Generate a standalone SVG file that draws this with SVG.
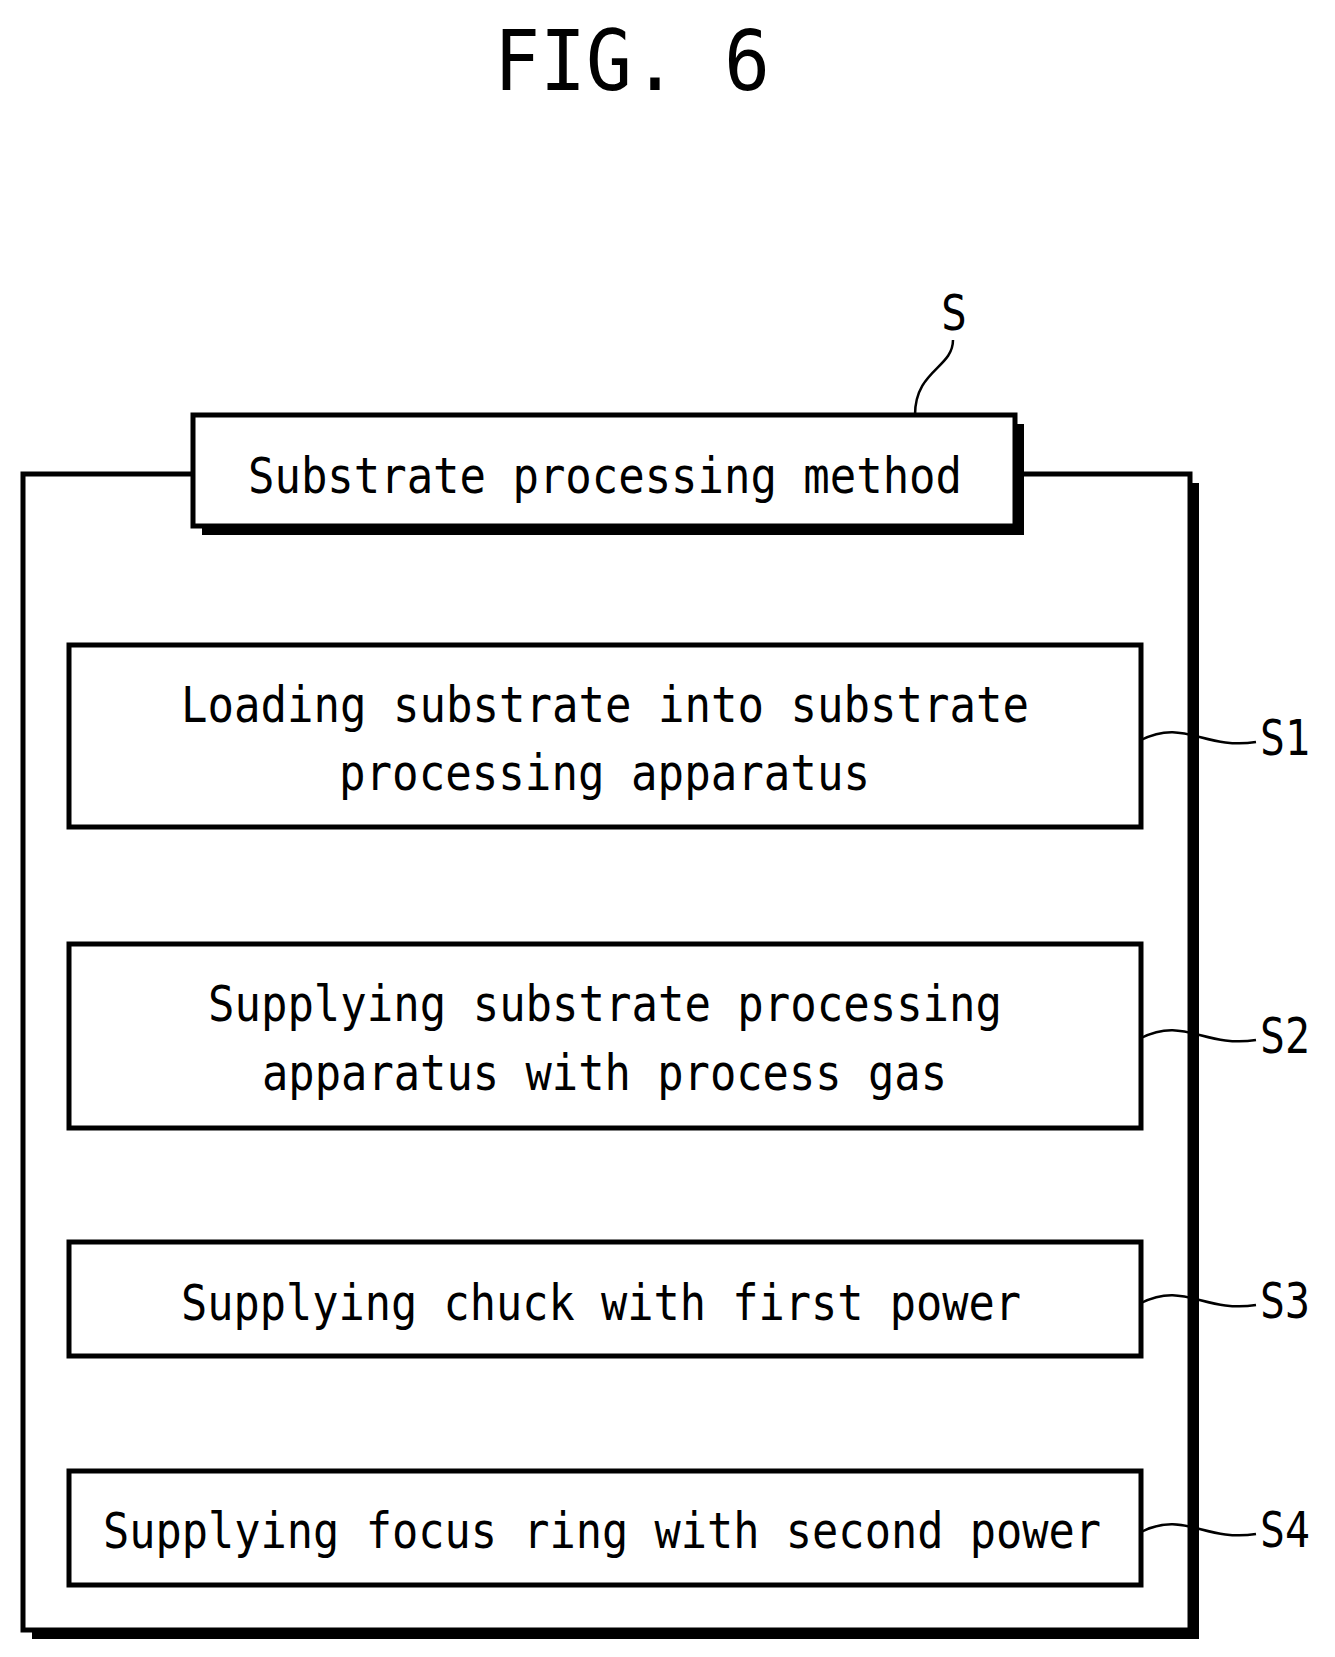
<svg xmlns="http://www.w3.org/2000/svg" width="1335" height="1657" viewBox="0 0 1335 1657">
<style>
.b{fill:#fff;stroke:#000;stroke-width:5}
.sh{fill:#000}
.t{font-family:"DejaVu Sans Mono","Liberation Mono",monospace;font-size:50px;fill:#000}
.l{fill:none;stroke:#000;stroke-width:2.5}
</style>
<rect width="1335" height="1657" fill="#fff"/>
<text x="494" y="90" class="t" style="font-size:84px" textLength="276" lengthAdjust="spacingAndGlyphs">FIG. 6</text>
<g id="outer">
<rect x="32" y="483" width="1167" height="1156" class="sh"/>
<rect x="23" y="474" width="1167" height="1156" class="b"/>
</g>
<g id="title">
<rect x="202" y="424" width="822" height="111" class="sh"/>
<rect x="193" y="415" width="822" height="111" class="b"/>
<text x="248" y="493" class="t" textLength="714" lengthAdjust="spacingAndGlyphs">Substrate processing method</text>
</g>
<g id="s1">
<rect x="69" y="645" width="1072" height="182" class="b"/>
<text x="181" y="722" class="t" textLength="848" lengthAdjust="spacingAndGlyphs">Loading substrate into substrate</text>
<text x="339" y="790" class="t" textLength="531" lengthAdjust="spacingAndGlyphs">processing apparatus</text>
</g>
<g id="s2">
<rect x="69" y="944" width="1072" height="184" class="b"/>
<text x="208" y="1021" class="t" textLength="794" lengthAdjust="spacingAndGlyphs">Supplying substrate processing</text>
<text x="262" y="1090" class="t" textLength="685" lengthAdjust="spacingAndGlyphs">apparatus with process gas</text>
</g>
<g id="s3">
<rect x="69" y="1242" width="1072" height="114" class="b"/>
<text x="181" y="1320" class="t" textLength="840" lengthAdjust="spacingAndGlyphs">Supplying chuck with first power</text>
</g>
<g id="s4">
<rect x="69" y="1471" width="1072" height="114" class="b"/>
<text x="103" y="1548" class="t" textLength="998" lengthAdjust="spacingAndGlyphs">Supplying focus ring with second power</text>
</g>
<g id="labels" class="t">
<text x="941" y="330" textLength="26" lengthAdjust="spacingAndGlyphs">S</text>
<text x="1260" y="755" textLength="50" lengthAdjust="spacingAndGlyphs">S1</text>
<text x="1260" y="1053" textLength="50" lengthAdjust="spacingAndGlyphs">S2</text>
<text x="1260" y="1318" textLength="50" lengthAdjust="spacingAndGlyphs">S3</text>
<text x="1260" y="1547" textLength="50" lengthAdjust="spacingAndGlyphs">S4</text>
</g>
<g id="connectors" class="l">
<path d="M953,340 C953,368 915,370 915,415"/>
<path d="M1141,740 C1184,718 1204,750 1256,742"/>
<path d="M1141,1038 C1184,1016 1204,1048 1256,1040"/>
<path d="M1141,1303 C1184,1281 1204,1313 1256,1305"/>
<path d="M1141,1532 C1184,1510 1204,1542 1256,1534"/>
</g>
</svg>
